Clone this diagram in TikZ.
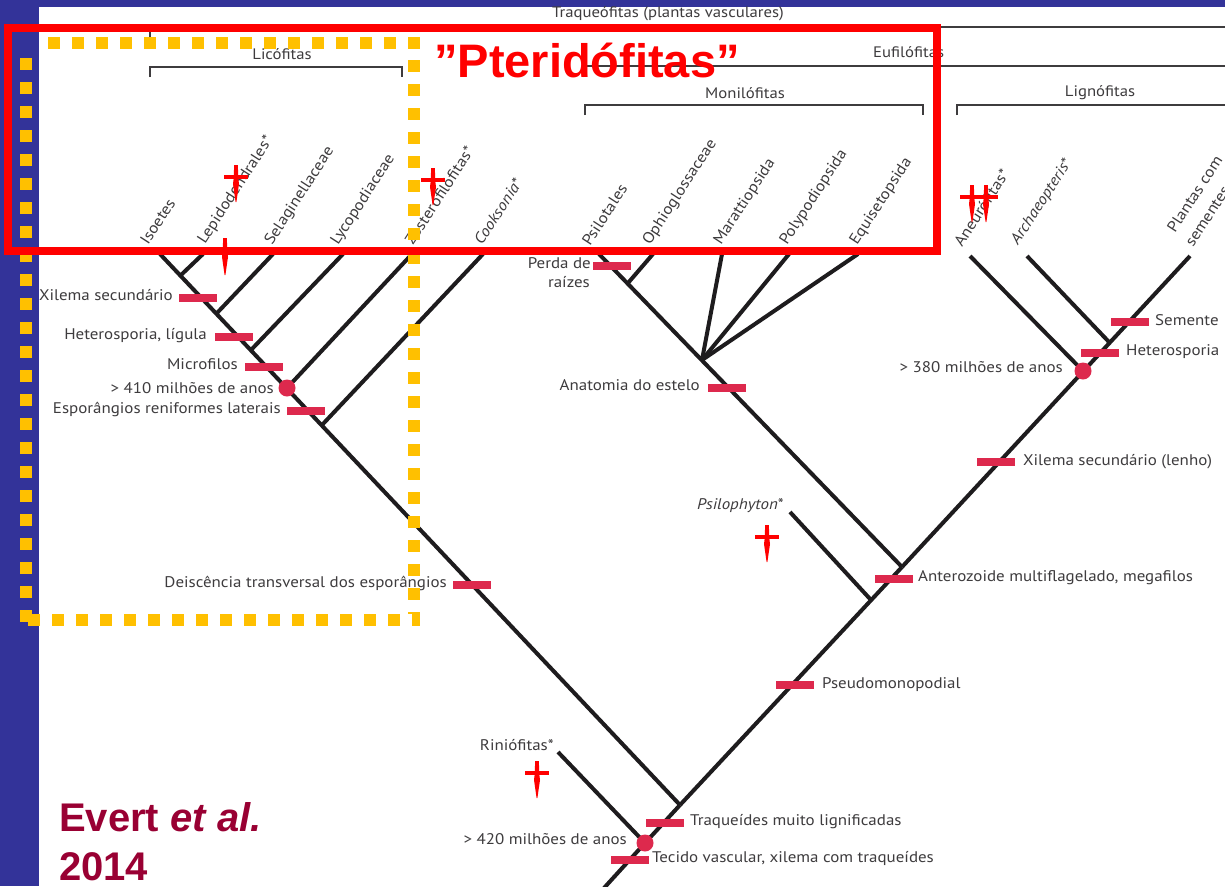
\documentclass[tikz,border=0pt]{standalone}
\usepackage{fontspec}
\setmainfont{PT Sans}[FakeStretch=1.1]
\newfontfamily\slidefont{Liberation Sans}
\definecolor{slideblue}{RGB}{51,51,153}
\definecolor{markred}{RGB}{221,41,77}
\definecolor{boxred}{RGB}{255,0,0}
\definecolor{dotyellow}{RGB}{255,192,0}
\definecolor{treeink}{RGB}{30,28,30}
\definecolor{labelgray}{RGB}{62,60,62}
\definecolor{citered}{RGB}{153,0,51}
\tikzset{
  crossstem/.pic={
    \fill[boxred] (-1.8,-12) -- (1.8,-12) -- (2.4,2) -- (3,7) -- (0.4,25) -- (-0.4,25) -- (-3,7) -- (-2.4,2) -- cycle;
  },
  crossmark/.pic={
    \pic {crossstem};
    \fill[boxred] (-12,-2) rectangle (12,2);
  }
}
\begin{document}
\begin{tikzpicture}[x=1pt,y=-1pt,
  branch/.style={line width=4pt, draw=treeink},
  bracket/.style={line width=1.6pt, draw=labelgray},
  lbl/.style={font=\fontsize{15.4}{18}\selectfont, text=labelgray, inner sep=0pt},
  grp/.style={lbl, font=\fontsize{15.2}{18}\selectfont},
  taxon/.style={lbl, rotate=57, anchor=base west},
  trait/.style={fill=markred, minimum width=38pt, minimum height=8pt, inner sep=0pt},
  agedot/.style={circle, fill=markred, minimum size=17pt, inner sep=0pt},
  dots/.style={draw=dotyellow, line width=12pt, dash pattern=on 12pt off 12pt},
]
\useasboundingbox (0,0) rectangle (1225,886);
% slide background
\fill[white] (0,0) rectangle (1225,886);
\fill[slideblue] (0,0) rectangle (1225,7);
\fill[slideblue] (0,0) rectangle (39,886);

% ---------- group brackets ----------
\draw[bracket] (150,38) -- (150,27) -- (1240,27);
\node[grp] (traq) at (668,14) {Traqueófitas (plantas vasculares)};
\draw[bracket] (150,77) -- (150,67) -- (402,67) -- (402,77);
\node[grp] (lico) at (282,54) {Licófitas};
\draw[bracket] (584,77) -- (584,66) -- (1240,66);
\node[grp, anchor=mid west] (eufi) at (873,55) {Eufilófitas};
\draw[bracket] (585,115) -- (585,105) -- (923,105) -- (923,115);
\node[grp] (moni) at (745,93) {Monilófitas};
\draw[bracket] (957,115) -- (957,105) -- (1240,105);
\node[grp] (ligno) at (1100,93) {Lignófitas};

% ---------- tree coordinates ----------
\coordinate (root) at (604,888);
\coordinate (d420) at (645,843);
\coordinate (rhyTip) at (558,752);
\coordinate (J1) at (680,805);
\coordinate (isoTip) at (160,254);
\coordinate (lepTip) at (203,254);
\coordinate (lepJ) at (181,275);
\coordinate (selTip) at (273,254);
\coordinate (selJ) at (217,313);
\coordinate (lycTip) at (343,254);
\coordinate (lycJ) at (251,350);
\coordinate (zosTip) at (412,254);
\coordinate (zosJ) at (287,388);
\coordinate (cookTip) at (483,254);
\coordinate (cookJ) at (322,425);
\coordinate (J2) at (871,600);
\coordinate (psiloTip) at (790,512);
\coordinate (J3) at (902,567);
\coordinate (psilTip) at (599,254);
\coordinate (ophJ) at (628,283);
\coordinate (ophTip) at (653,254);
\coordinate (hub) at (702,360);
\coordinate (marTip) at (722,254);
\coordinate (polTip) at (789,254);
\coordinate (equTip) at (858,254);
\coordinate (seedTip) at (1190,256);
\coordinate (d380) at (1083,371);
\coordinate (archJ) at (1109,342);
\coordinate (aneTip) at (970,256);
\coordinate (archTip) at (1027,256);

% ---------- branches ----------
\draw[branch] (root) -- (d420) -- (J1);
\draw[branch] (rhyTip) -- (d420);
\draw[branch] (isoTip) -- (J1);
\draw[branch] (lepTip) -- (lepJ);
\draw[branch] (selTip) -- (selJ);
\draw[branch] (lycTip) -- (lycJ);
\draw[branch] (zosTip) -- (zosJ);
\draw[branch] (cookTip) -- (cookJ);
\draw[branch] (J1) -- (J3);
\draw[branch] (psiloTip) -- (J2);
\draw[branch] (J3) -- (psilTip);
\draw[branch] (ophTip) -- (ophJ);
\draw[branch] (marTip) -- (hub);
\draw[branch] (polTip) -- (hub);
\draw[branch] (equTip) -- (hub);
\draw[branch] (J3) -- (seedTip);
\draw[branch] (aneTip) -- (d380);
\draw[branch] (archTip) -- (archJ);

% ---------- character bars and age dots ----------
\node[trait] (xs1) at (198,298) {};
\node[trait] (het1) at (234,337) {};
\node[trait] (mic) at (264,367) {};
\node[agedot] (age410) at (zosJ) {};
\node[trait] (esp) at (306,411) {};
\node[trait] (deis) at (472,585) {};
\node[trait] (perda) at (612,266) {};
\node[trait] (estelo) at (727,388) {};
\node[trait] (sem) at (1130,322) {};
\node[trait] (het2) at (1100,353) {};
\node[agedot] (age380) at (d380) {};
\node[trait] (xs2) at (996,462) {};
\node[trait] (antero) at (894,579) {};
\node[trait] (pseudo) at (795,685) {};
\node[trait] (traqm) at (665,823) {};
\node[agedot] (age420) at (d420) {};
\node[trait] (tecido) at (630,860) {};

% ---------- character labels ----------
\node[lbl, anchor=mid east] (txs1) at (173,298) {Xilema secundário};
\node[lbl, anchor=mid east] (thet1) at (207,337) {Heterosporia, lígula};
\node[lbl, anchor=mid east] (tmic) at (238,367) {Microfilos};
\node[lbl, anchor=mid east] (t410) at (274,391) {> 410 milhões de anos};
\node[lbl, anchor=mid east] (tesp) at (281,411) {Esporângios reniformes laterais};
\node[lbl, anchor=mid east] (tdeis) at (447,585) {Deiscência transversal dos esporângios};
\node[lbl, anchor=mid east] (tperda) at (591,266) {Perda de};
\node[lbl, anchor=mid east] (traiz) at (590,285) {raízes};
\node[lbl, anchor=mid east] (testelo) at (700,388) {Anatomia do estelo};
\node[lbl, anchor=mid east] (t380) at (1063,370) {> 380 milhões de anos};
\node[lbl, anchor=mid west] (tsem) at (1155,323) {Semente};
\node[lbl, anchor=mid west] (thet2) at (1126,353) {Heterosporia};
\node[lbl, anchor=mid west] (txs2) at (1023,463) {Xilema secundário (lenho)};
\node[lbl, anchor=mid west] (tantero) at (918,579) {Anterozoide multiflagelado, megafilos};
\node[lbl, anchor=mid west] (tpseudo) at (822,686) {Pseudomonopodial};
\node[lbl, anchor=mid east] (tpsilo) at (784,507) {\itshape Psilophyton\upshape*};
\node[lbl, anchor=mid east] (trhy) at (554,748) {Riniófitas*};
\node[lbl, anchor=mid west] (ttraqm) at (690,823) {Traqueídes muito lignificadas};
\node[lbl, anchor=mid east] (t420) at (627,842) {> 420 milhões de anos};
\node[lbl, anchor=mid west] (ttecido) at (652,860) {Tecido vascular, xilema com traqueídes};

% ---------- taxon names ----------
\node[taxon] (nIso) at (148,246) {Isoetes};
\node[taxon] (nLep) at (205,245) {Lepidodendrales*};
\node[taxon] (nSel) at (272,246) {Selaginellaceae};
\node[taxon] (nLyc) at (338,246) {Lycopodiaceae};
\node[taxon] (nZos) at (413,246) {Zosterofilófitas*};
\node[taxon] (nCook) at (482,246) {\itshape Cooksonia\upshape*};
\node[taxon] (nPsil) at (590,247) {Psilotales};
\node[taxon] (nOph) at (650,246) {Ophioglossaceae};
\node[taxon] (nMar) at (721,246) {Marattiopsida};
\node[taxon] (nPol) at (787,246) {Polypodiopsida};
\node[taxon] (nEqu) at (857,246) {Equisetopsida};
\node[taxon] (nAne) at (962,248) {Aneurófitas*};
\node[taxon] (nArch) at (1018,246) {\itshape Archaeopteris\upshape*};
\node[taxon] (nSeed1) at (1175,234) {Plantas com};
\node[taxon] (nSeed2) at (1193,248) {sementes};

% ---------- dotted frame ----------
\draw[dots] (48,43) -- (420,43);
\draw[dots] (26,58) -- (26,626);
\draw[dots] (414,60) -- (414,614);
\draw[dots] (28,620) -- (420,620);

% ---------- red frame and heading ----------
\draw[boxred, line width=8pt] (8,28) rectangle (937,251);
\node[font=\slidefont\bfseries\fontsize{47}{52}\selectfont, text=boxred, anchor=base west, inner sep=0pt]
  (pterid) at (434,77) {”Pteridófitas”};

% ---------- extinction marks ----------
\pic at (236,177) {crossmark};
\pic at (225,250) {crossmark};
\pic at (433,180) {crossmark};
\pic at (767,537) {crossmark};
\pic at (537,773) {crossmark};
\pic at (972,197) {crossstem};
\pic at (986,197) {crossstem};
\fill[boxred] (960,195) rectangle (998,199);

% ---------- citation ----------
\node[font=\slidefont\bfseries\fontsize{40}{46}\selectfont, text=citered, anchor=base west, inner sep=0pt]
  (cite1) at (59,831) {Evert \textit{et al.}};
\node[font=\slidefont\bfseries\fontsize{40}{46}\selectfont, text=citered, anchor=base west, inner sep=0pt]
  (cite2) at (59,880) {2014};
\end{tikzpicture}
\end{document}
